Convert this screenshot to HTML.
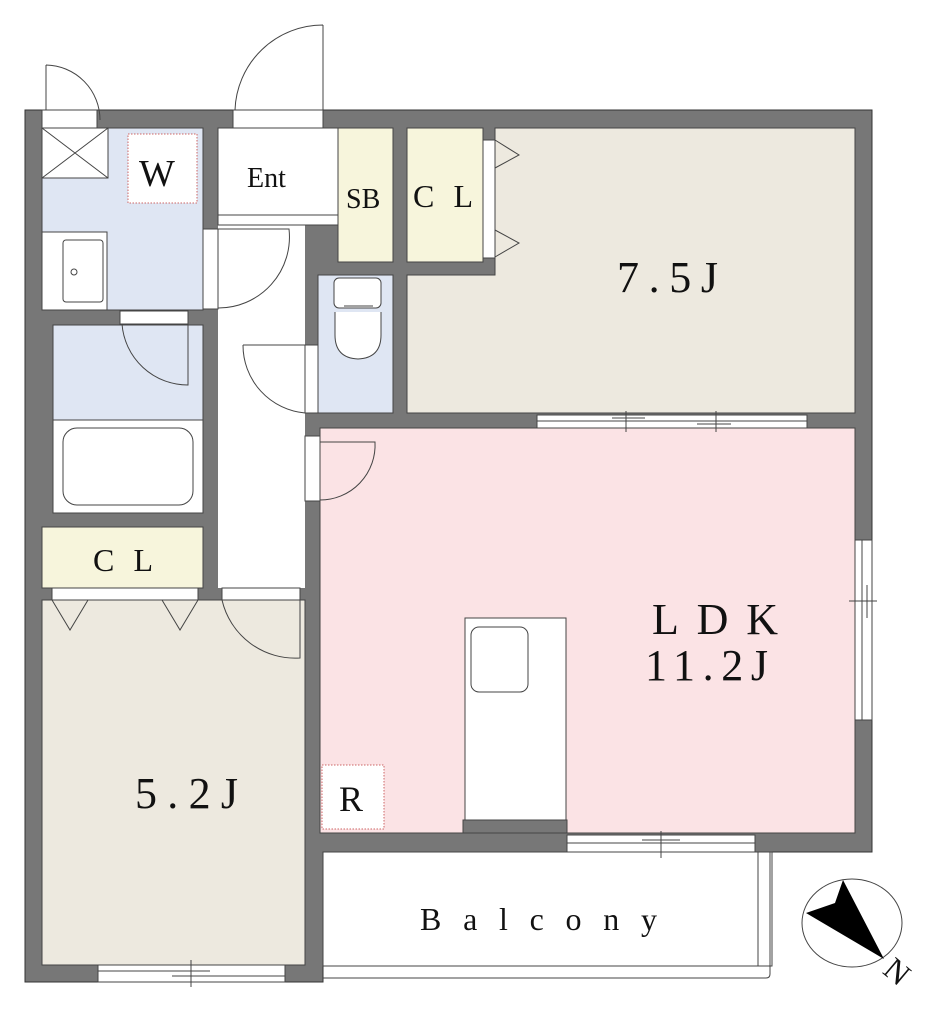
<!DOCTYPE html>
<html><head><meta charset="utf-8"><style>
html,body{margin:0;padding:0;background:#fff;}
svg{display:block;}
text{font-family:"Liberation Serif",serif;fill:#111;}
</style></head><body>
<svg width="948" height="1024" viewBox="0 0 948 1024" xmlns="http://www.w3.org/2000/svg">
<path d="M25 110 H872 V852 H323 V982 H25 Z" fill="#777" stroke="#333" stroke-width="1"/>
<g stroke="#444" stroke-width="1">
<rect x="42" y="128" width="66" height="50" fill="#fff"/>
<path d="M42 178 H108 V128 H203 V310 H42 Z" fill="#dfe6f3"/>
<rect x="218" y="128" width="120" height="97" fill="#fff"/>
<rect x="218" y="225" width="87" height="363" fill="#fff" stroke="none"/>
<rect x="338" y="128" width="55" height="134" fill="#f7f5dc"/>
<rect x="407" y="128" width="76" height="134" fill="#f7f5dc"/>
<path d="M495 128 H855 V413 H407 V275 H495 Z" fill="#ede9df"/>
<rect x="318" y="275" width="75" height="138" fill="#dfe6f3"/>
<rect x="53" y="325" width="150" height="95" fill="#dfe6f3"/>
<rect x="53" y="420" width="150" height="93" fill="#fff"/>
<rect x="42" y="527" width="161" height="61" fill="#f7f5dc"/>
<rect x="42" y="600" width="263" height="365" fill="#ede9df"/>
<path d="M320 428 H855 V833 H567 V820 H463 V833 H320 Z" fill="#fbe3e5"/>
<rect x="463" y="820" width="104" height="13" fill="#777"/>
<rect x="465" y="618" width="101" height="202" fill="#fff"/>
<rect x="471" y="627" width="57" height="65" rx="8" fill="#fff"/>
<rect x="323" y="852" width="449" height="114" fill="#fff"/>
</g>
<path d="M323 978 H766 Q770 978 770 974 V852" fill="none" stroke="#444"/>
<path d="M323 966 H758 V852" fill="none" stroke="#444"/>
<path d="M42 128 L108 178 M108 128 L42 178" stroke="#444"/>
<rect x="128" y="134" width="69" height="69" fill="#fff" stroke="#c66" stroke-dasharray="1.5,1.5" stroke-width="1"/>
<rect x="42" y="232" width="65" height="78" fill="#fff" stroke="#444"/>
<rect x="63" y="240" width="40" height="62" rx="3" fill="#fff" stroke="#444"/>
<circle cx="74" cy="272" r="3" fill="#fff" stroke="#444"/>
<rect x="63" y="428" width="130" height="77" rx="14" fill="#fff" stroke="#444"/>
<rect x="334" y="278" width="47" height="30" rx="5" fill="#fff" stroke="#444"/>
<path d="M335 312 V335 Q335 358 358 359 Q381 358 381 335 V312" fill="#fff" stroke="#444"/>
<line x1="344" y1="306" x2="373" y2="306" stroke="#444"/>
<g fill="#fff" stroke="#444" stroke-width="1">
<rect x="42" y="110" width="55" height="18"/>
<rect x="233" y="110" width="90" height="18"/>
<rect x="203" y="229" width="15" height="80"/>
<rect x="120" y="311" width="68" height="13"/>
<rect x="305" y="345" width="13" height="68"/>
<rect x="305" y="436" width="15" height="65"/>
<rect x="483" y="140" width="12" height="118"/>
<rect x="52" y="588" width="146" height="12"/>
<rect x="222" y="588" width="78" height="12"/>
<rect x="537" y="415" width="270" height="13"/>
<rect x="855" y="540" width="17" height="180"/>
<rect x="567" y="835" width="188" height="17"/>
<rect x="98" y="965" width="187" height="17"/>
</g>
<g stroke="#444" fill="none" stroke-width="1">
<line x1="218" y1="215" x2="338" y2="215"/>
<line x1="218" y1="225" x2="338" y2="225"/>
<path d="M46 65 A55 55 0 0 1 100 120 M46 65 V110"/>
<path d="M323 25 V110 M323 25 A88 88 0 0 0 235 110"/>
<path d="M218 229 H289 A71 71 0 0 1 218 308"/>
<path d="M188 324 V385 A66 66 0 0 1 122 324"/>
<path d="M243 345 H305 M243 345 A68 68 0 0 0 305 413"/>
<path d="M320 442 H375 A55 55 0 0 1 320 500"/>
<path d="M300 600 V658 A75 75 0 0 1 222 600"/>
<path d="M495 140 L519 155 L495 168 M495 230 L519 243 L495 257"/>
<path d="M52 600 L70 630 L88 600 M162 600 L180 630 L198 600"/>
<line x1="537" y1="421" x2="807" y2="421"/>
<line x1="612" y1="418" x2="645" y2="418"/><line x1="697" y1="424" x2="731" y2="424"/>
<line x1="626" y1="411" x2="626" y2="432"/><line x1="716" y1="411" x2="716" y2="432"/>
<line x1="862" y1="540" x2="862" y2="720"/><line x1="867" y1="585" x2="867" y2="618"/>
<line x1="849" y1="601" x2="877" y2="601"/>
<line x1="567" y1="843" x2="755" y2="843"/><line x1="642" y1="840" x2="680" y2="840"/>
<line x1="661" y1="831" x2="661" y2="858"/>
<line x1="98" y1="971" x2="210" y2="971"/><line x1="172" y1="976" x2="285" y2="976"/>
<line x1="191" y1="960" x2="191" y2="987"/>
</g>
<rect x="322" y="765" width="62" height="64" fill="#fff" stroke="#c66" stroke-dasharray="1.5,1.5"/>
<ellipse cx="852" cy="923" rx="50" ry="44" fill="#fff" stroke="#444"/>
<path d="M843 880 L884 959 L806 913 L835 903 Z" fill="#000"/>
<text x="884" y="985" font-size="32" transform="rotate(40 900 975)">N</text>
<text x="139" y="186" font-size="38">W</text>
<text x="247" y="187" font-size="28">Ent</text>
<text x="346" y="208" font-size="28">SB</text>
<text x="413" y="207" font-size="32" textLength="60" lengthAdjust="spacing">C L</text>
<text x="617" y="292" font-size="44" textLength="101" lengthAdjust="spacing">7.5J</text>
<text x="93" y="571" font-size="32" textLength="60" lengthAdjust="spacing">C L</text>
<text x="652" y="634" font-size="44" textLength="126" lengthAdjust="spacing">LDK</text>
<text x="645" y="680" font-size="44" textLength="123" lengthAdjust="spacing">11.2J</text>
<text x="135" y="808" font-size="44" textLength="103" lengthAdjust="spacing">5.2J</text>
<text x="339" y="811" font-size="36">R</text>
<text x="420" y="930" font-size="32" textLength="237" lengthAdjust="spacing">Balcony</text>
</svg>
</body></html>
